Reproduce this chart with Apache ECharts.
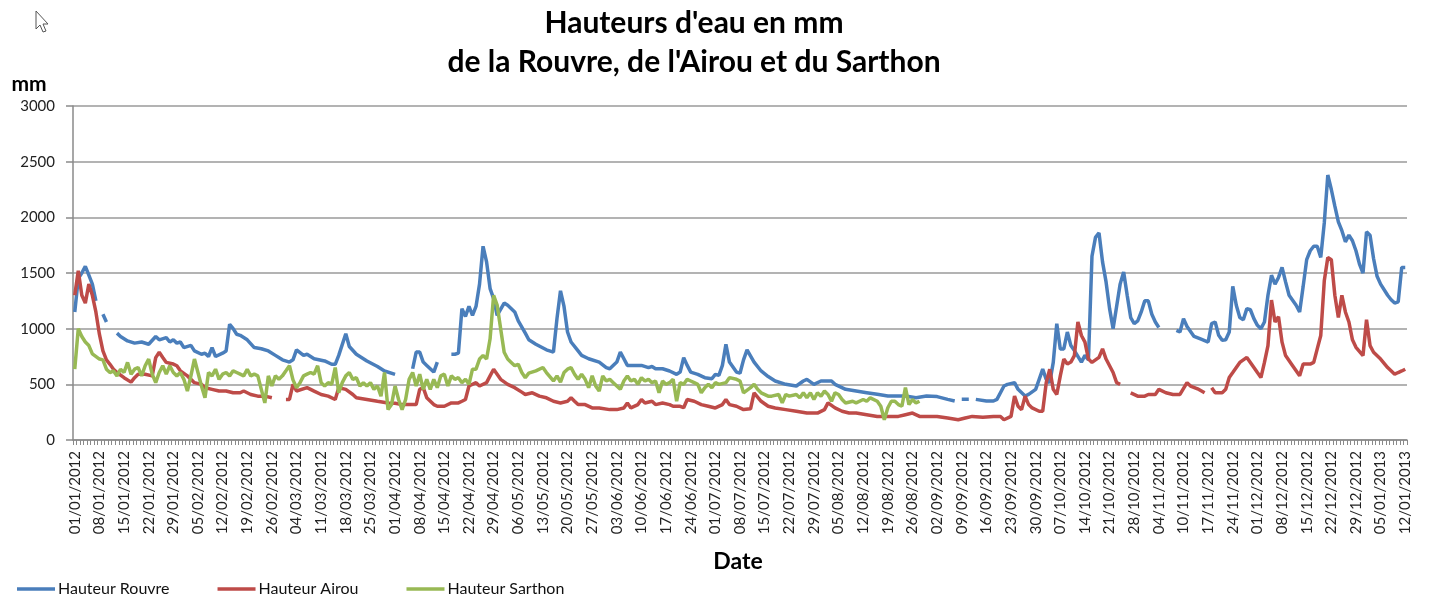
<!DOCTYPE html>
<html>
<head>
<meta charset="utf-8">
<script src="https://cdn.jsdelivr.net/npm/echarts@6/dist/echarts.min.js"></script>
<style>
html,body{margin:0;padding:0;background:#fff;}
#chart{width:1429px;height:597px;}
</style>
</head>
<body>
<div id="chart"></div>
<script>
// Tick labels shown every 7 categories
var tickLabels = ['01/01/2012','08/01/2012','15/01/2012','22/01/2012','29/01/2012','05/02/2012','12/02/2012','19/02/2012','26/02/2012','04/03/2012','11/03/2012','18/03/2012','25/03/2012','01/04/2012','08/04/2012','15/04/2012','22/04/2012','29/04/2012','06/05/2012','13/05/2012','20/05/2012','27/05/2012','03/06/2012','10/06/2012','17/06/2012','24/06/2012','01/07/2012','08/07/2012','15/07/2012','22/07/2012','29/07/2012','05/08/2012','12/08/2012','19/08/2012','26/08/2012','02/09/2012','09/09/2012','16/09/2012','23/09/2012','30/09/2012','07/10/2012','14/10/2012','21/10/2012','28/10/2012','04/11/2012','10/11/2012','17/11/2012','24/11/2012','01/12/2012','08/12/2012','15/12/2012','22/12/2012','29/12/2012','05/01/2013','12/01/2013'];

// Daily categories (the source sheet repeats one day in early November)
var categories = (function(){
  var out = [], d = new Date(Date.UTC(2012,0,1)), end = Date.UTC(2013,0,12);
  function fmt(t){ var x=new Date(t); return ('0'+x.getUTCDate()).slice(-2)+'/'+('0'+(x.getUTCMonth()+1)).slice(-2)+'/'+x.getUTCFullYear(); }
  for (var t=d.getTime(); t<=end; t+=86400000){ out.push(fmt(t)); if (fmt(t)==='05/11/2012') out.push(fmt(t)); }
  return out;
})();

// [category index, mm]  (null = missing measurement)
var rouvre = [[0,1150],[1,1450],[2,1500],[3,1560],[4,1480],[5,1400],[6,1250],[7,null],
[8,1130],[9,1060],[10,null],
[12,960],[13,930],[15,890],[17,870],[19,880],[21,860],[23,930],[24,900],[26,920],[27,880],[28,900],[29,870],[30,880],[31,830],[33,850],[34,800],[36,770],[37,780],[38,750],[39,830],[40,750],[42,780],[43,800],[44,1040],[45,1000],[46,950],[47,940],[49,900],[51,830],[53,820],[55,800],[57,760],[59,720],[61,700],[62,720],
[63,810],[65,760],[66,770],[68,730],[71,710],[73,680],[74,680],[75,760],[77,955],[78,840],[80,770],[83,710],[86,660],[88,620],[91,590],[92,null],
[96,640],[97,790],[98,790],[99,700],[100,670],[102,610],[103,700],[104,null],
[107,770],[108,770],[109,780],[110,1180],[111,1110],[112,1200],[113,1120],[114,1200],[115,1400],[116,1740],[117,1600],[118,1360],[119,1270],[120,1120],[122,1230],[123,1210],[125,1150],[126,1070],[128,960],[129,900],[131,860],[134,810],[136,790],[137,1090],[138,1340],[139,1200],[140,970],[141,880],[143,800],[144,760],[146,730],[149,700],[151,650],[152,640],[154,700],[155,790],[157,670],[159,670],[161,670],[163,650],[164,660],[165,640],[167,640],[169,620],[171,590],[172,610],[173,740],[174,670],[175,610],[177,590],[179,560],[181,550],[182,590],[183,580],[184,670],[185,860],[186,700],[188,610],[189,600],[190,720],[191,810],[193,700],[195,620],[197,570],[199,530],[202,500],[205,485],[207,530],[208,545],[210,500],[212,530],[215,530],[216,500],[219,455],[222,440],[225,425],[228,410],[231,395],[233,395],[236,395],[239,380],[242,395],[245,390],[248,365],[250,350],[251,null],
[252,365],[254,365],[255,null],
[256,365],[259,350],[261,350],[262,365],[264,485],[265,500],[267,515],[268,455],[270,395],[271,410],[273,455],[274,545],[275,636],[276,545],[277,515],[278,697],[279,1045],[280,818],[281,818],[282,970],[283,848],[284,803],[286,700],[287,760],[288,720],[289,1650],[290,1820],[291,1860],[292,1600],[293,1420],[294,1180],[295,1000],[296,1200],[297,1400],[298,1510],[299,1300],[300,1100],[301,1045],[302,1070],[303,1150],[304,1250],[305,1250],[306,1130],[307,1060],[308,1010],[309,null],
[313,985],[314,970],[315,1090],[316,1020],[318,930],[320,905],[322,880],[323,1045],[324,1060],[325,940],[326,895],[327,900],[328,970],[329,1380],[330,1210],[331,1100],[332,1080],[333,1180],[334,1170],[335,1090],[336,1030],[337,1000],[338,1060],[339,1300],[340,1480],[341,1400],[342,1460],[343,1550],[344,1420],[345,1300],[347,1210],[348,1150],[349,1380],[350,1620],[351,1700],[352,1740],[353,1740],[354,1640],[355,1950],[356,2380],[357,2250],[358,2100],[359,1960],[360,1880],[361,1780],[362,1840],[363,1790],[364,1700],[365,1580],[366,1500],[367,1870],[368,1840],[369,1630],[370,1470],[371,1400],[373,1300],[374,1260],[375,1230],[376,1240],[377,1550],[378,1550]];

var airou = [[0,1300],[1,1520],[2,1300],[3,1230],[4,1400],[5,1300],[6,1150],[7,950],[8,800],[9,720],[10,680],[11,636],[12,606],[14,560],[16,520],[17,560],[18,590],[19,590],[20,590],[22,576],[23,740],[24,788],[25,742],[26,697],[28,682],[29,667],[30,621],[32,576],[34,515],[36,500],[37,470],[39,455],[41,440],[43,440],[45,424],[47,424],[48,440],[50,409],[52,394],[54,394],[56,379],[57,null],
[60,364],[61,364],[62,500],[63,440],[66,470],[68,439],[70,409],[72,394],[74,364],[75,470],[77,455],[79,409],[80,379],[83,364],[86,348],[89,333],[91,330],[93,318],[97,318],[98,455],[99,470],[100,380],[102,318],[103,303],[105,303],[107,333],[109,333],[110,348],[111,364],[112,485],[114,515],[115,485],[117,515],[118,576],[119,636],[120,591],[121,545],[123,500],[125,470],[127,430],[128,409],[130,424],[132,394],[134,379],[136,348],[138,333],[140,348],[141,379],[142,348],[143,318],[145,318],[147,288],[149,288],[152,273],[154,273],[156,288],[157,333],[158,288],[160,318],[161,364],[162,333],[164,348],[165,318],[167,333],[169,318],[170,303],[172,303],[173,290],[174,364],[176,348],[178,318],[180,303],[182,288],[184,318],[185,364],[186,318],[188,303],[190,273],[192,280],[193,424],[195,348],[197,303],[199,288],[202,273],[205,258],[208,242],[211,242],[213,273],[214,333],[216,288],[218,258],[220,242],[222,242],[225,227],[228,212],[231,212],[234,212],[236,227],[238,242],[240,212],[243,212],[245,212],[248,197],[251,182],[253,197],[255,212],[258,205],[261,212],[263,212],[264,182],[266,212],[267,394],[268,303],[269,273],[270,394],[271,318],[272,288],[274,258],[275,258],[276,515],[277,636],[278,455],[279,409],[280,576],[281,727],[282,682],[283,700],[284,758],[285,1060],[286,939],[287,879],[288,727],[289,697],[291,742],[292,818],[293,727],[295,606],[296,515],[297,500],[298,null],
[300,424],[302,394],[304,394],[305,409],[307,409],[308,455],[310,424],[312,409],[314,409],[316,515],[317,485],[319,460],[321,424],[322,null],
[323,470],[324,424],[326,424],[327,455],[328,561],[329,606],[331,697],[333,742],[334,697],[336,606],[337,561],[338,697],[339,848],[340,1257],[341,1060],[342,1106],[343,879],[344,758],[346,667],[348,576],[349,682],[351,682],[352,697],[353,818],[354,939],[355,1430],[356,1640],[357,1620],[358,1300],[359,1100],[360,1300],[361,1150],[362,1060],[363,900],[364,833],[366,758],[367,1080],[368,848],[369,788],[371,727],[373,651],[375,591],[376,606],[377,620],[378,636]];

var sarthon = [[0,636],[1,1000],[2,930],[3,880],[4,848],[5,773],[7,727],[8,720],[9,636],[10,606],[11,620],[12,576],[13,636],[14,606],[15,697],[16,591],[17,636],[18,651],[19,576],[20,667],[21,727],[22,591],[23,515],[24,606],[25,667],[26,591],[27,667],[28,606],[29,576],[30,606],[31,545],[32,439],[33,576],[34,727],[35,606],[36,485],[37,379],[38,606],[39,576],[40,636],[41,545],[42,591],[43,606],[44,576],[45,621],[46,606],[47,591],[48,576],[49,636],[50,576],[51,591],[52,576],[53,455],[54,333],[55,576],[56,485],[57,576],[58,545],[59,576],[60,621],[61,667],[62,540],[63,470],[64,515],[65,576],[66,591],[67,606],[68,591],[69,667],[70,515],[71,485],[72,515],[73,500],[74,651],[75,424],[76,515],[77,576],[78,606],[79,545],[80,560],[81,485],[82,515],[83,485],[84,515],[85,455],[86,485],[87,394],[88,606],[89,273],[90,318],[91,485],[92,364],[93,273],[94,364],[95,545],[96,606],[97,485],[98,591],[99,455],[100,545],[101,455],[102,545],[103,470],[104,576],[105,591],[106,485],[107,576],[108,545],[109,560],[110,515],[111,545],[112,500],[113,636],[114,636],[115,727],[116,758],[117,727],[118,909],[119,1300],[120,1212],[121,1000],[122,788],[123,727],[124,697],[125,667],[126,680],[127,606],[128,560],[129,600],[131,621],[133,651],[134,606],[136,530],[137,576],[138,520],[139,606],[140,636],[141,650],[142,591],[143,545],[144,591],[145,545],[146,470],[147,576],[148,485],[149,439],[150,576],[151,530],[152,545],[153,515],[155,455],[156,530],[157,576],[158,530],[159,545],[160,500],[161,560],[162,530],[163,545],[164,515],[165,530],[166,424],[167,530],[168,500],[169,515],[170,545],[171,348],[172,515],[173,500],[174,545],[175,530],[176,515],[177,500],[178,424],[179,470],[180,500],[181,470],[182,515],[183,500],[185,515],[186,560],[188,545],[189,530],[190,424],[192,470],[193,500],[194,455],[195,424],[197,394],[198,394],[200,409],[201,333],[202,409],[203,394],[205,409],[206,380],[207,424],[208,380],[209,424],[210,364],[211,424],[212,394],[213,439],[214,409],[215,348],[216,424],[217,409],[218,364],[219,333],[221,348],[222,333],[224,364],[225,348],[226,379],[228,348],[229,303],[230,182],[231,290],[232,348],[233,348],[234,318],[235,303],[236,470],[237,318],[238,364],[239,333],[240,348]];

var seriesNames = ['Hauteur Rouvre','Hauteur Airou','Hauteur Sarthon'];
var seriesColors = ['#4A7EBB','#BE4B48','#98B954'];
var FONT = 'Lato, "Open Sans", sans-serif';

var chart = echarts.init(document.getElementById('chart'), null, {renderer:'canvas'});
chart.setOption({
  animation: false,
  backgroundColor: '#fff',
  grid: {left: 73, right: 22, top: 106, bottom: 157, containLabel: false},
  graphic: [
    {type:'text', x:694, y:23, style:{text:"Hauteurs d'eau en mm", fill:'#000', font:'bold 30px '+FONT, align:'center', verticalAlign:'middle'}},
    {type:'text', x:694, y:62, style:{text:"de la Rouvre, de l'Airou et du Sarthon", fill:'#000', font:'bold 30px '+FONT, align:'center', verticalAlign:'middle'}},
    {type:'text', x:29, y:84, style:{text:'mm', fill:'#000', font:'bold 21px '+FONT, align:'center', verticalAlign:'middle'}},
    {type:'text', x:738, y:562, style:{text:'Date', fill:'#000', font:'bold 23px '+FONT, align:'center', verticalAlign:'middle'}},
    {type:'polygon', shape:{points:[[36,11],[36,29],[40,25],[43,32],[46,31],[43,24],[48,24]]}, style:{fill:'#fff', stroke:'#555', lineWidth:1}}
  ],
  legend: {
    left: 12, top: 576, itemWidth: 38, itemHeight: 14, itemGap: 48,
    icon: 'path://M0,5.5 L40,5.5 L40,9 L0,9 Z',
    textStyle: {fontFamily: FONT, fontSize: 16, color: '#111', padding:[0,0,0,-2]},
    data: seriesNames
  },
  xAxis: {
    type: 'category',
    data: categories,
    boundaryGap: true,
    axisLine: {lineStyle: {color: '#8a8a8a', width: 1.5}},
    axisTick: {show: true, interval: 0, length: 5, lineStyle: {color: '#8a8a8a', width: 1}},
    axisLabel: {
      interval: 6, rotate: 90, margin: 11,
      fontFamily: FONT, fontSize: 15, color: '#222',
      formatter: function(v, i){ return tickLabels[i/7] || ''; }
    },
    splitLine: {show: false}
  },
  yAxis: {
    type: 'value', min: 0, max: 3000, interval: 500,
    axisLine: {show: true, lineStyle: {color: '#8a8a8a', width: 1.5}},
    axisTick: {show: true, length: 7, lineStyle: {color: '#8a8a8a', width: 1.5}},
    axisLabel: {margin: 18, fontFamily: FONT, fontSize: 15, color: '#222', formatter: function(v){ return String(v); }},
    splitLine: {show: true, lineStyle: {color: '#9a9a9a', width: 1.5}}
  },
  series: [
    {name: seriesNames[0], type: 'line', data: rouvre, symbol: 'none', connectNulls: false, lineStyle: {width: 3.5, color: seriesColors[0]}, itemStyle: {color: seriesColors[0]}, z: 3},
    {name: seriesNames[1], type: 'line', data: airou, symbol: 'none', connectNulls: false, lineStyle: {width: 3.5, color: seriesColors[1]}, itemStyle: {color: seriesColors[1]}, z: 4},
    {name: seriesNames[2], type: 'line', data: sarthon, symbol: 'none', connectNulls: false, lineStyle: {width: 3.5, color: seriesColors[2]}, itemStyle: {color: seriesColors[2]}, z: 5}
  ]
});
</script>
</body>
</html>
